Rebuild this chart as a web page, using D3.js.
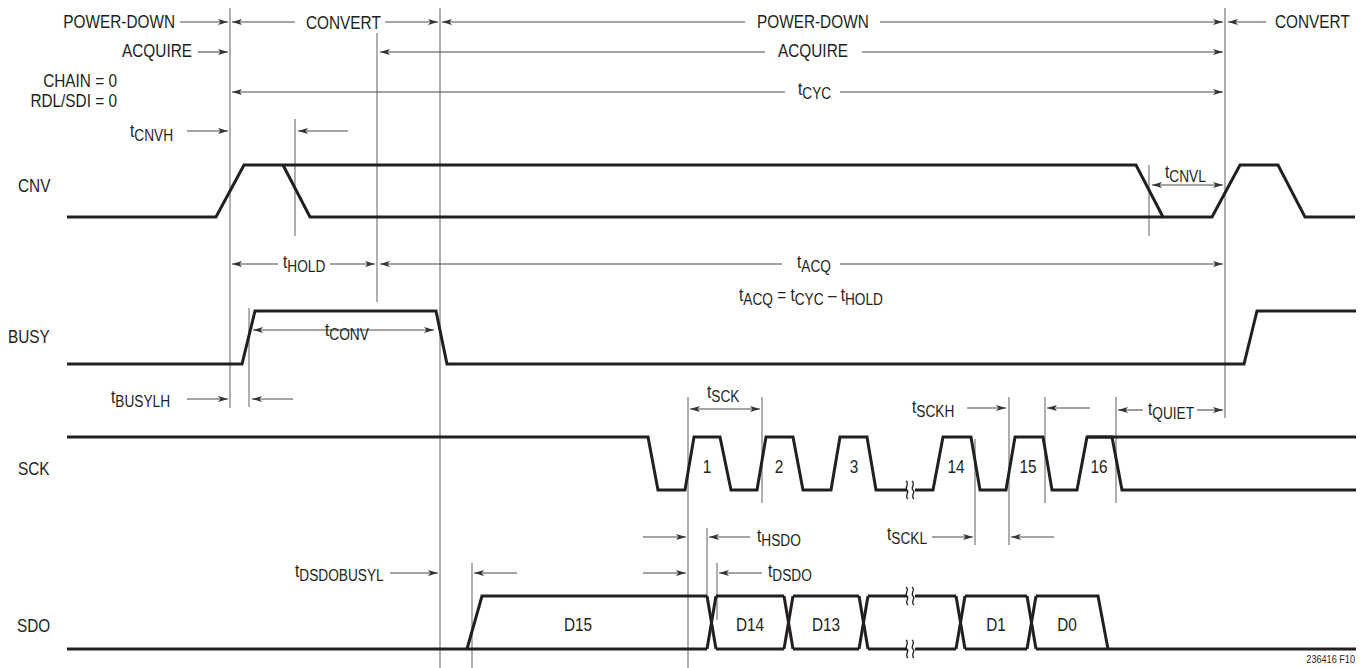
<!DOCTYPE html>
<html><head><meta charset="utf-8">
<script src="https://cdn.jsdelivr.net/npm/d3@7"></script>
<style>
html,body{margin:0;padding:0;background:#fff;}
text{font-family:"Liberation Sans",Arial,sans-serif;fill:#231f20;}
</style></head><body>
<svg id="c" width="1360" height="668"></svg>
<script>
// ---------------- DATA (time units, logic levels) ----------------
const signalNames = ["CNV", "BUSY", "SCK", "SDO"];
const cnvEdges    = [[67,0],[216,0],[244,1],[1136,1],[1163,0],[1212,0],[1240,1],[1278,1],[1305,0],[1355,0]];
const cnvAltEdges = [[283,1],[310,0],[1163,0]];
const busyEdges   = [[67,0],[242,0],[255,1],[436,1],[447,0],[1244,0],[1257,1],[1356,1]];
const sckEdgesA   = [[67,1],[648,1],[658,0],[685,0],[694,1],[720,1],[731,0],[757,0],[766,1],[793,1],[803,0],[831,0],[840,1],[867,1],[876,0],[907,0]];
const sckEdgesB   = [[915,0],[933,0],[943,1],[971,1],[980,0],[1006,0],[1015,1],[1043,1],[1052,0],[1077,0],[1087,1],[1112,1],[1122,0],[1356,0]];
const sckIdleHigh = [[1087,1],[1356,1]];
const sckPulseLabels = ["1","2","3","14","15","16"];
const sckPulseTimes  = [707,779,854,956,1028,1099];
const sdoCellLabels  = ["D15","D14","D13","","D1","D0"];
const sdoLabelTimes  = [578,750,826,0,996,1067];
const sdoStart = 467, sdoRiseEnd = 482, sdoFallStart = 1098, sdoFallEnd = 1108, sdoLineStart = 67, sdoLineEnd = 1356;
const sdoCrossings = [707,784,859,956,1027];
const breakTimes = [911];

// ---------------- LAYOUT ----------------
const W = 1360, H = 668;
const X_T = 9; // crossing transition width
const SX = 0.83; // condensed text
const rows = {CNV:{high:165, low:217, label:192},
              BUSY:{high:311, low:364, label:343},
              SCK:{high:437, low:490, label:475},
              SDO:{high:596, low:649, label:632}};
const labelX = {CNV:18, BUSY:8, SCK:18, SDO:17};

const svg = d3.select("#c");
const x = d3.scaleLinear().domain([0, W]).range([0, W]);
const yLevel = name => d3.scaleLinear().domain([0,1]).range([rows[name].low, rows[name].high]);

const INK = "#231f20", THIN = "#4a4a4a", GUIDE = "#6d6d6d";

const defs = svg.append("defs");
defs.append("marker").attr("id","ah").attr("viewBox","0 0 10 6").attr("refX",10).attr("refY",3)
  .attr("markerWidth",10).attr("markerHeight",6).attr("markerUnits","userSpaceOnUse").attr("orient","auto")
  .append("path").attr("d","M0,0 L10,3 L0,6 L2.5,3 Z").attr("fill","#333");

// ---------- guide (vertical) lines ----------
const guides = [
  [230,8,408],[295,119,236],[377,33,302],[440,8,668],[1225,8,418],[1149,165,236],[249,308,407],
  [688,397,668],[762,397,503],[1009,397,545],[1045,397,503],[1116,397,503],[975,439,545],
  [707,528,598],[717,563,620],[472,563,668]
];
svg.append("g").selectAll("line").data(guides).join("line")
  .attr("x1",d=>x(d[0])).attr("x2",d=>x(d[0])).attr("y1",d=>d[1]).attr("y2",d=>d[2])
  .attr("stroke",GUIDE).attr("stroke-width",1.1);

// ---------- arrows [from, to, y] head at "to" ----------
const arrows = [
  [180,228,22],[295,232,22],[385,438,22],[745,442,22],[880,1223,22],[1266,1228,22],
  [198,228,52],[765,380,52],[862,1223,52],
  [785,232,92],[840,1223,92],
  [187,228,131],[348,298,131],
  [1188,1152,185],[1188,1223,185],
  [278,232,264],[330,375,264],[782,380,264],[840,1223,264],
  [345,253,330],[345,434,330],
  [187,228,399],[293,252,399],
  [725,690,409],[725,760,409],
  [967,1006,408],[1090,1047,408],
  [1143,1118,410],[1197,1223,410],
  [643,686,537],[750,709,537],[932,973,537],[1054,1011,537],
  [390,438,573],[517,474,573],[643,686,573],[762,719,573]
];
svg.append("g").selectAll("line").data(arrows).join("line")
  .attr("x1",d=>x(d[0])).attr("x2",d=>x(d[1])).attr("y1",d=>d[2]).attr("y2",d=>d[2])
  .attr("stroke",THIN).attr("stroke-width",1.1).attr("marker-end","url(#ah)");

// ---------- waveforms ----------
function wave(name, pts){
  const yl = yLevel(name);
  svg.append("path").datum(pts)
    .attr("d", d3.line().x(d=>x(d[0])).y(d=>yl(d[1])))
    .attr("fill","none").attr("stroke",INK).attr("stroke-width",3).attr("stroke-linejoin","miter");
}
wave("CNV", cnvEdges);
wave("CNV", cnvAltEdges);
wave("BUSY", busyEdges);
wave("SCK", sckEdgesA);
wave("SCK", sckEdgesB);
wave("SCK", sckIdleHigh);

// SDO bus
(function(){
  const segs = [];
  segs.push([[sdoLineStart,0],[sdoCrossings[0],0]]);
  segs.push([[sdoStart,0],[sdoRiseEnd,1],[sdoCrossings[0],1]]);
  sdoCrossings.forEach((c,i)=>{
    segs.push([[c,1],[c+X_T,0]]);
    segs.push([[c,0],[c+X_T,1]]);
    const next = i < sdoCrossings.length-1 ? sdoCrossings[i+1] : null;
    if(next!==null){
      const br = breakTimes.find(b=>b>c && b<next);
      if(br){
        segs.push([[c+X_T,1],[br-4,1]]); segs.push([[br+4,1],[next,1]]);
        segs.push([[c+X_T,0],[br-4,0]]); segs.push([[br+4,0],[next,0]]);
      } else {
        segs.push([[c+X_T,1],[next,1]]); segs.push([[c+X_T,0],[next,0]]);
      }
    }
  });
  const last = sdoCrossings[sdoCrossings.length-1];
  segs.push([[last+X_T,1],[sdoFallStart,1],[sdoFallEnd,0]]);
  segs.push([[last+X_T,0],[sdoLineEnd,0]]);
  segs.forEach(s=>wave("SDO", s));
})();

// break marks
function breakMark(t, yc){
  [-4,2].forEach(off=>{
    const cx = x(t)+off;
    svg.append("path")
      .attr("d",`M${cx-1},${yc-9} C${cx+3},${yc-6} ${cx-3},${yc-2} ${cx},${yc} C${cx+3},${yc+2} ${cx-3},${yc+6} ${cx+1},${yc+9}`)
      .attr("fill","none").attr("stroke",INK).attr("stroke-width",1.3);
  });
}
breakTimes.forEach(t=>{
  breakMark(t, rows.SCK.low);
  breakMark(t, rows.SDO.high);
  breakMark(t, rows.SDO.low);
});

// ---------- text ----------
const FS = 18.5, FSUB = 16.5;
function newText(xp, yp, anchor, size){
  return svg.append("text").attr("transform",`translate(${xp},${yp}) scale(${SX},1)`)
    .attr("x",0).attr("y",0).attr("text-anchor",anchor||"start").style("font-size",(size||FS)+"px");
}
function label(xp, yp, main, sub, anchor){
  const t = newText(xp, yp, anchor);
  t.append("tspan").text(main);
  if(sub){ t.append("tspan").attr("dy",4).style("font-size",FSUB+"px").text(sub); }
  return t;
}
signalNames.forEach(n=>label(labelX[n], rows[n].label, n));

label(175,28,"POWER-DOWN",null,"end");
label(306,29,"CONVERT");
label(757,28,"POWER-DOWN");
label(1275,28,"CONVERT");
label(192,57,"ACQUIRE",null,"end");
label(778,57,"ACQUIRE");
label(117,87,"CHAIN = 0",null,"end");
label(117,107,"RDL/SDI = 0",null,"end");

const tLabels = [
  [798,95,"CYC"],[130,137,"CNVH"],[1165,178,"CNVL"],[283,268,"HOLD"],[797,268,"ACQ"],
  [325,336,"CONV"],[111,403,"BUSYLH"],[707,398,"SCK"],[912,413,"SCKH"],[1148,415,"QUIET"],
  [757,542,"HSDO"],[887,540,"SCKL"],[768,577,"DSDO"],[295,577,"DSDOBUSYL"]
];
tLabels.forEach(d=>label(d[0],d[1],"t",d[2]));

(function(){
  const t = newText(811,301,"middle");
  t.append("tspan").text("t");
  t.append("tspan").attr("dy",4).style("font-size",FSUB+"px").text("ACQ");
  t.append("tspan").attr("dy",-4).text(" = t");
  t.append("tspan").attr("dy",4).style("font-size",FSUB+"px").text("CYC");
  t.append("tspan").attr("dy",-4).text(" – t");
  t.append("tspan").attr("dy",4).style("font-size",FSUB+"px").text("HOLD");
})();

sckPulseLabels.forEach((d,i)=>newText(x(sckPulseTimes[i]),473,"middle").text(d));
sdoCellLabels.forEach((l,i)=>{ if(l) newText(x(sdoLabelTimes[i]),631,"middle").text(l); });

newText(1355,663,"end",11).text("236416 F10");
</script>
</body></html>
